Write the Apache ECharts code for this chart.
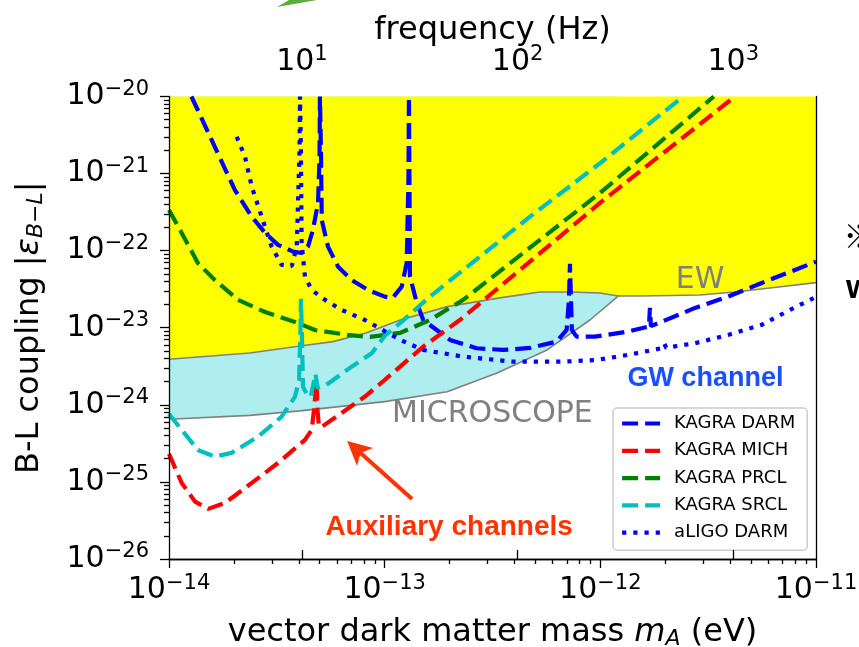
<!DOCTYPE html>
<html>
<head>
<meta charset="utf-8">
<script src="https://cdn.jsdelivr.net/npm/echarts@6/dist/echarts.min.js"></script>
<style>
html, body { margin: 0; padding: 0; background: #fff; }
#myChart { width: 859px; height: 647px; }
</style>
</head>
<body>
<div id="myChart"></div>
<script>
const FONT = "DejaVu Sans";
const BOLD_FONT = "Liberation Sans";
const HZ_PER_EV = 2.418e14; // m c^2 / h

// axis ranges and ticks
const massRange = [1e-14, 1e-11];
const couplingRange = [1e-26, 1e-20];
const massTicks = [1e-14, 1e-13, 1e-12, 1e-11];
const couplingTicks = [1e-26, 1e-25, 1e-24, 1e-23, 1e-22, 1e-21, 1e-20];
const freqTicks = [10, 100, 1000];

const legendNames = ["KAGRA DARM", "KAGRA MICH", "KAGRA PRCL", "KAGRA SRCL", "aLIGO DARM"];

// excluded regions, [mass eV, coupling]
const ewBound = [[1e-14,3.9e-24],[2.37e-14,4.71e-24],[4.05e-14,5.81e-24],[5.76e-14,6.61e-24],[8.19e-14,8.57e-24],
  [1.18e-13,1.26e-23],[1.95e-13,1.88e-23],[3.42e-13,2.44e-23],[5.25e-13,2.91e-23],[7.23e-13,2.91e-23],
  [9.96e-13,2.83e-23],[1.21e-12,2.58e-23],[1.54e-12,2.58e-23],[2.9e-12,2.66e-23],[4.21e-12,2.91e-23],
  [6.11e-12,3.28e-23],[1e-11,3.85e-23]];
const microscopeBound = [[1e-14,6.5e-25],[2.37e-14,7.29e-25],[4.05e-14,8.34e-25],[1e-13,1.1e-24],[1.95e-13,1.48e-24],
  [3.32e-13,2.59e-24],[5.66e-13,5.15e-24],[8.95e-13,1.26e-23],[1.21e-12,2.58e-23]];

// sensitivity curves
const kagraDarm = [[1.27e-14,1e-20],[1.36e-14,6.68e-21],[1.63e-14,2.23e-21],[2.02e-14,6.13e-22],[2.42e-14,2.76e-22],
  [2.79e-14,1.7e-22],[3.2e-14,1.19e-22],[3.76e-14,9.7e-23],[4.12e-14,9.33e-23],[4.41e-14,1.13e-22],[4.65e-14,1.86e-22],
  [4.91e-14,4.16e-22],[4.99e-14,1.66e-21],[5.01e-14,1e-20],[5.07e-14,1.66e-21],[5.11e-14,2.5e-22],[5.46e-14,1.13e-22],
  [6.08e-14,6.2e-23],[7.03e-14,4.17e-23],[8.37e-14,3.09e-23],[1e-13,2.53e-23],[1.09e-13,2.44e-23],[1.2e-13,3.41e-23],
  [1.265e-13,6.93e-23],[1.289e-13,8.26e-22],[1.296e-13,1e-20],[1.303e-13,8.26e-22],[1.31e-13,4.6e-23],[1.41e-13,2.1e-23],
  [1.51e-13,1.26e-23],[2.01e-13,6.95e-24],[2.67e-13,5.42e-24],[3.54e-13,5.15e-24],[4.72e-13,5.47e-24],[6.27e-13,6.61e-24],
  [6.98e-13,9.36e-24],[7.15e-13,2.3e-23],[7.23e-13,6.73e-23],[7.31e-13,2.3e-23],[7.38e-13,9.36e-24],[7.76e-13,7.67e-24],
  [9.44e-13,7.67e-24],[1.34e-12,8.9e-24],[1.68e-12,1.04e-23],[1.698e-12,1.81e-23],[1.716e-12,1.05e-23],[1.92e-12,1.19e-23],
  [2.75e-12,1.81e-23],[3.91e-12,2.53e-23],[5.6e-12,3.81e-23],[7.98e-12,5.62e-23],[1e-11,7.2e-23]];
const kagraMich = [[1e-14,2.31e-25],[1.145e-14,9.7e-26],[1.32e-14,5.55e-26],[1.52e-14,4.47e-26],[1.82e-14,5.34e-26],
  [2.42e-14,9.7e-26],[3.2e-14,1.76e-25],[4.27e-14,3.51e-25],[4.59e-14,4.73e-25],[4.7e-14,8.59e-25],[4.84e-14,2e-24],
  [4.88e-14,8.59e-25],[4.96e-14,5.21e-25],[5.12e-14,5.21e-25],[6.32e-14,7.85e-25],[8.1e-14,1.28e-24],[1e-13,2.1e-24],
  [1.51e-13,5.69e-24],[2.23e-13,1.26e-23],[4.24e-13,5.62e-23],[9.96e-13,4.16e-22],[4.21e-12,1e-20]];
const kagraPrcl = [[1e-14,3.37e-22],[1.145e-14,1.7e-22],[1.36e-14,6.93e-23],[1.63e-14,4.17e-23],[2.09e-14,2.3e-23],
  [2.79e-14,1.6e-23],[3.84e-14,1.19e-23],[4.75e-14,9.36e-24],[6.76e-14,8.07e-24],[8.55e-14,7.6e-24],[1.18e-13,8.57e-24],
  [1.62e-13,1.26e-23],[2.31e-13,2.3e-23],[9.96e-13,5.6e-22],[3.36e-12,1e-20]];
const kagraSrcl = [[1e-14,7.62e-25],[1.145e-14,4.73e-25],[1.36e-14,2.6e-25],[1.63e-14,2.13e-25],[1.95e-14,2.38e-25],
  [2.59e-14,3.87e-25],[3.33e-14,7.03e-25],[3.84e-14,1.28e-24],[4.01e-14,2.1e-24],[4.07e-14,9.36e-24],[4.09e-14,2.37e-23],
  [4.14e-14,6.95e-24],[4.18e-14,1.72e-24],[4.41e-14,1.28e-24],[4.55e-14,1.31e-24],[4.78e-14,2.52e-24],[4.88e-14,1.66e-24],
  [5.29e-14,1.76e-24],[7.03e-14,3.13e-24],[8.71e-14,4.67e-24],[1e-13,7.83e-24],[1.18e-13,1.15e-23],[1.62e-13,2.53e-23],
  [4.72e-13,2.76e-22],[9.96e-13,1.36e-21],[2.42e-12,1e-20]];
const aligoDarm = [[2.06e-14,3.01e-21],[2.25e-14,1.66e-21],[2.42e-14,6.76e-22],[2.69e-14,2.76e-22],[2.99e-14,1.13e-22],
  [3.33e-14,6.52e-23],[3.71e-14,6.33e-23],[3.91e-14,1.13e-22],[3.96e-14,3.72e-22],[4.03e-14,2.02e-21],[4.05e-14,1e-20],
  [4.09e-14,2.02e-21],[4.12e-14,1.26e-22],[4.27e-14,4.6e-23],[4.59e-14,3.09e-23],[5.29e-14,2.3e-23],[6.32e-14,1.7e-23],
  [8.1e-14,1.26e-23],[1.18e-13,6.95e-24],[1.51e-13,5.15e-24],[2.31e-13,4.22e-24],[3.93e-13,3.63e-24],[6.71e-13,3.63e-24],
  [9.61e-13,3.82e-24],[1.34e-12,4.44e-24],[1.92e-12,5.42e-24],[1.98e-12,6.2e-24],[2.02e-12,5.5e-24],[2.75e-12,6.3e-24],
  [3.91e-12,8.07e-24],[5.6e-12,1.09e-23],[7.57e-12,1.7e-23],[1e-11,2.51e-23]];

// annotation anchors in data space
const ewLabelAt = [2.9e-12, 4.2e-23];
const microscopeLabelAt = [3.16e-13, 7.6e-25];
const gwLabelAt = [3.07e-12, 2.17e-24];
const auxLabelAt = [1.99e-13, 2.6e-26];
const arrowFrom = [1.34e-13, 6.0e-26];
const arrowTo = [6.7e-14, 3.4e-25];

function minorTicks(lo, hi) {
  const out = [];
  for (let e = lo; e < hi; e++) {
    for (let k = 2; k <= 9; k++) out.push(k * Math.pow(10, e));
  }
  return out;
}

function powLabel(v) {
  const e = Math.round(Math.log10(v));
  return "{b|10}{s|" + (e < 0 ? "\u2212" + (-e) : e) + "}";
}

const powRich = {
  b: { fontFamily: FONT, fontSize: 30, color: "#000" },
  s: { fontFamily: FONT, fontSize: 21, color: "#000", padding: [0, 0, 14, 0] }
};

const DASH = [16, 7];
const DOT = [4.2, 7];

function curve(name, data, color, dash) {
  return {
    name: name, type: "line", data: data, symbol: "none", clip: true,
    xAxisIndex: 0, yAxisIndex: 0, z: 3, silent: true,
    lineStyle: { color: color, width: 4.2, type: dash, cap: "butt" },
    itemStyle: { color: color }
  };
}

function boundary(name, data, fill) {
  return {
    name: name, type: "line", data: data, symbol: "none", clip: true,
    xAxisIndex: 0, yAxisIndex: 0, z: 2, silent: true,
    lineStyle: { color: "#808080", width: 1.6 },
    areaStyle: { color: fill, opacity: 1, origin: "end" }
  };
}

const blackLine = { color: "#000", width: 1.3 };

let myChart = echarts.init(document.getElementById("myChart"));
myChart.setOption({
  animation: false,
  backgroundColor: "#fff",
  grid: { left: 169, top: 96.5, width: 647, height: 462.5, containLabel: false, outerBoundsMode: "none" },
  xAxis: [
    {
      type: "log", min: massRange[0], max: massRange[1], position: "bottom", z: 10,
      axisLine: { show: true, lineStyle: blackLine },
      axisTick: { show: true, customValues: massTicks, length: 9, lineStyle: blackLine },
      axisLabel: { customValues: massTicks, formatter: powLabel, rich: powRich, margin: 14 },
      splitLine: { show: false },
      name: "{n|vector dark matter mass }{i|m}{sub|A}{n| (eV)}",
      nameLocation: "middle", nameGap: 57, nameMoveOverlap: false,
      nameTextStyle: {
        rich: {
          n: { fontFamily: FONT, fontSize: 32, color: "#000" },
          i: { fontFamily: FONT, fontSize: 32, fontStyle: "italic", color: "#000" },
          sub: { fontFamily: FONT, fontSize: 22, fontStyle: "italic", color: "#000", padding: [12, 0, 0, 0] }
        }
      }
    },
    {
      type: "log", min: massRange[0] * HZ_PER_EV, max: massRange[1] * HZ_PER_EV, position: "top", z: 10,
      axisLine: { show: true, lineStyle: blackLine },
      axisTick: { show: true, customValues: freqTicks, length: 9, lineStyle: blackLine },
      axisLabel: { customValues: freqTicks, formatter: powLabel, rich: powRich, margin: 17 },
      splitLine: { show: false },
      name: "frequency (Hz)", nameLocation: "middle", nameGap: 50, nameMoveOverlap: false,
      nameTextStyle: { fontFamily: FONT, fontSize: 32, color: "#000" }
    },
    {
      type: "log", min: massRange[0], max: massRange[1], position: "bottom", z: 10,
      axisLine: { show: false },
      axisTick: { show: true, customValues: minorTicks(-14, -11), length: 5, lineStyle: blackLine },
      axisLabel: { show: false },
      splitLine: { show: false }
    }
  ],
  yAxis: [
    {
      type: "log", min: couplingRange[0], max: couplingRange[1], position: "left", z: 10,
      axisLine: { show: true, lineStyle: blackLine },
      axisTick: { show: true, customValues: couplingTicks, length: 9, lineStyle: blackLine },
      axisLabel: { customValues: couplingTicks, formatter: powLabel, rich: powRich, margin: 20 },
      splitLine: { show: false },
      name: "{n|B-L coupling |}{i|\u03b5}{sub|B\u2212L}{n||}",
      nameLocation: "middle", nameGap: 122, nameRotate: 90, nameMoveOverlap: false,
      nameTextStyle: {
        rich: {
          n: { fontFamily: FONT, fontSize: 32, color: "#000" },
          i: { fontFamily: FONT, fontSize: 32, fontStyle: "italic", color: "#000" },
          sub: { fontFamily: FONT, fontSize: 22, fontStyle: "italic", color: "#000", padding: [12, 0, 0, 0] }
        }
      }
    },
    {
      type: "log", min: couplingRange[0], max: couplingRange[1], position: "left", z: 10,
      axisLine: { show: false },
      axisTick: { show: true, customValues: minorTicks(-26, -20), length: 5, lineStyle: blackLine },
      axisLabel: { show: false },
      splitLine: { show: false }
    },
    {
      type: "log", min: couplingRange[0], max: couplingRange[1], position: "right", z: 10,
      axisLine: { show: true, lineStyle: blackLine },
      axisTick: { show: false },
      axisLabel: { show: false },
      splitLine: { show: false }
    }
  ],
  legend: {
    data: legendNames,
    orient: "vertical", left: 613, top: 408,
    itemWidth: 38, itemHeight: 18, itemGap: 9.3,
    padding: [6.5, 12, 8.5, 7],
    backgroundColor: "#fff", borderColor: "#cccccc", borderWidth: 1.5, borderRadius: 4,
    textStyle: { fontFamily: FONT, fontSize: 18, color: "#000", padding: [0, 0, 0, 9] },
    lineStyle: { width: 4.2 },
    itemStyle: { opacity: 0, color: "rgba(0,0,0,0)", borderWidth: 0 },
    selectedMode: false
  },
  series: [
    boundary("MICROSCOPE", microscopeBound, "#afeeee"),
    boundary("EW", ewBound, "#ffff00"),
    curve("KAGRA DARM", kagraDarm, "#0000ff", DASH),
    curve("KAGRA MICH", kagraMich, "#ff0000", DASH),
    curve("KAGRA PRCL", kagraPrcl, "#008000", DASH),
    curve("KAGRA SRCL", kagraSrcl, "#00bfbf", DASH),
    curve("aLIGO DARM", aligoDarm, "#0000ff", DOT)
  ]
});

// annotations placed through the data coordinate system
const toPx = (p) => myChart.convertToPixel({ seriesIndex: 0 }, p);
function label(text, at, font, fill) {
  const p = toPx(at);
  return {
    type: "text", x: p[0], y: p[1], z: 20,
    style: { text: text, font: font, fill: fill, align: "center", verticalAlign: "middle",
             textAlign: "center", textVerticalAlign: "middle" }
  };
}

const tail = toPx(arrowFrom);
const tip = toPx(arrowTo);
const dx = tip[0] - tail[0], dy = tip[1] - tail[1];
const len = Math.sqrt(dx * dx + dy * dy);
const ux = dx / len, uy = dy / len, nx = -uy, ny = ux;
const headL = 24, headW = 12;
const notch = [tip[0] - ux * headL * 0.75, tip[1] - uy * headL * 0.75];

myChart.setOption({
  graphic: [
    label("EW", ewLabelAt, '30px "DejaVu Sans"', "#808080"),
    label("MICROSCOPE", microscopeLabelAt, '30px "DejaVu Sans"', "#808080"),
    label("GW channel", gwLabelAt, 'bold 27px "' + BOLD_FONT + '"', "#1a4fff"),
    label("Auxiliary channels", auxLabelAt, 'bold 28px "' + BOLD_FONT + '"', "#ff3300"),
    {
      type: "line", z: 20,
      shape: { x1: tail[0], y1: tail[1], x2: notch[0], y2: notch[1] },
      style: { stroke: "#ff3300", lineWidth: 4 }
    },
    {
      type: "polygon", z: 20,
      shape: { points: [
        [tip[0], tip[1]],
        [tip[0] - ux * headL + nx * headW, tip[1] - uy * headL + ny * headW],
        notch,
        [tip[0] - ux * headL - nx * headW, tip[1] - uy * headL - ny * headW]
      ] },
      style: { fill: "#ff3300" }
    },
    // bits of the surrounding slide cut off at the edges
    {
      type: "polygon", z: 20,
      shape: { points: [[277, 7], [317, 0], [289, 0]] },
      style: { fill: "#5bab3d" }
    },
    {
      type: "text", x: 843, y: 236, z: 20,
      style: { text: "\u203b", font: 'bold 34px "Noto Sans CJK JP"', fill: "#000",
               verticalAlign: "middle", textVerticalAlign: "middle" }
    },
    {
      type: "text", x: 846, y: 289, z: 20,
      style: { text: "w", font: 'bold 34px "Liberation Sans"', fill: "#000",
               verticalAlign: "middle", textVerticalAlign: "middle" }
    }
  ]
});
</script>
</body>
</html>
